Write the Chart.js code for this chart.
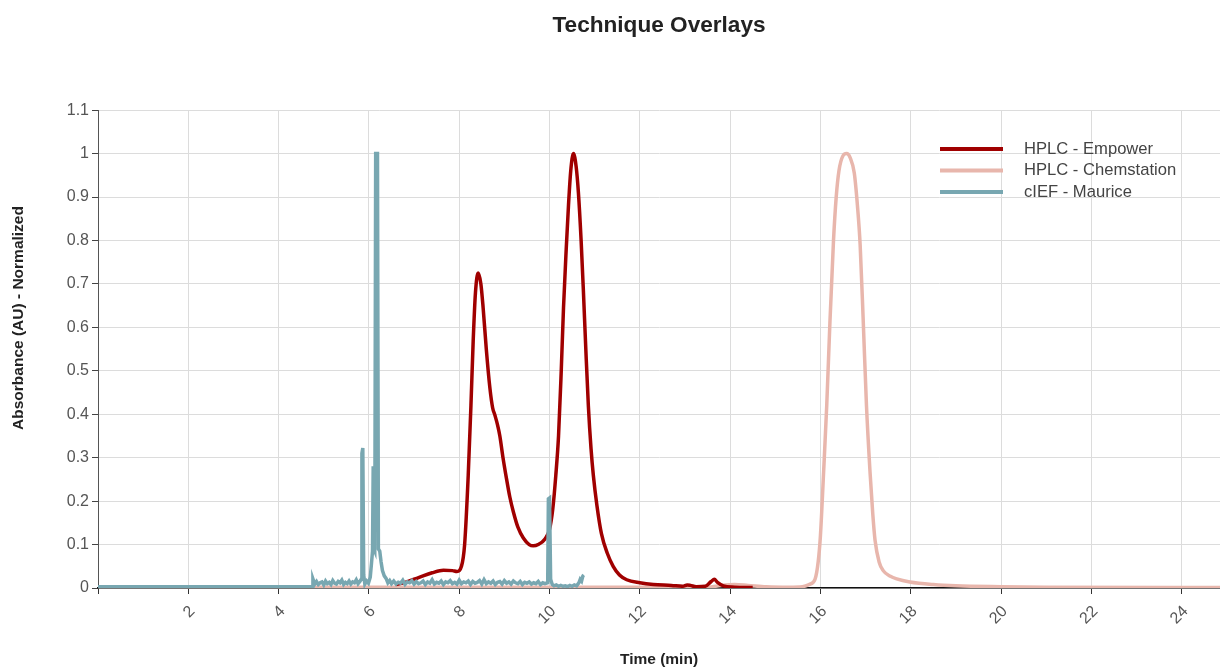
<!DOCTYPE html>
<html lang="en">
<head>
<meta charset="UTF-8"/>
<title>Technique Overlays</title>
<script src="https://cdn.jsdelivr.net/npm/chart.js"></script>
<style>
 body{margin:0;background:#fff}
 #wrap{width:1220px;height:671px}
</style>
</head>
<body>
<div id="wrap"><canvas id="chart" width="1220" height="671"></canvas></div>

<script>
// HPLC - Empower (time in min, normalized absorbance)
const empowerTime = [6.6, 6.8, 7.1, 7.4, 7.65, 7.85, 7.95, 8.05, 8.12, 8.2, 8.26, 8.31, 8.36, 8.42, 8.48, 8.53,
  8.6, 8.68, 8.74, 8.79, 8.85, 8.9, 8.97, 9.05, 9.12, 9.2, 9.3, 9.42, 9.55, 9.64, 9.75, 9.9, 10.0, 10.07, 10.14,
  10.2, 10.26, 10.31, 10.37, 10.42, 10.47, 10.53, 10.59, 10.64, 10.7, 10.75, 10.8, 10.86, 10.92, 10.97, 11.05,
  11.15, 11.28, 11.41, 11.55, 11.71, 12.0, 12.3, 12.7, 12.95, 13.05, 13.12, 13.25, 13.45, 13.58, 13.65, 13.72,
  13.85, 14.1, 14.5];
const empowerAbs = [0.008, 0.013, 0.024, 0.035, 0.041, 0.04, 0.038, 0.05, 0.1, 0.26, 0.42, 0.57, 0.68, 0.725, 0.7, 0.645,
  0.55, 0.46, 0.415, 0.398, 0.375, 0.35, 0.3, 0.25, 0.21, 0.175, 0.14, 0.115, 0.1, 0.097, 0.1, 0.113, 0.135, 0.18, 0.26,
  0.35, 0.5, 0.645, 0.78, 0.88, 0.96, 1.0, 0.97, 0.91, 0.8, 0.685, 0.56, 0.42, 0.32, 0.26, 0.19,
  0.125, 0.08, 0.05, 0.03, 0.019, 0.012, 0.008, 0.006, 0.004, 0.007, 0.006, 0.003, 0.004, 0.015, 0.02, 0.013,
  0.005, 0.002, 0.001];

// HPLC - Chemstation
const chemTime = [0, 13.5, 13.8, 14.1, 14.4, 14.8, 15.3, 15.6, 15.75, 15.88, 15.95, 16.0, 16.07, 16.14, 16.21, 16.29,
  16.35, 16.41, 16.5, 16.58, 16.66, 16.75, 16.82, 16.88, 16.95, 17.02, 17.1, 17.16, 17.21, 17.3, 17.39, 17.55,
  17.69, 17.98, 18.5, 19.0, 20.0, 21.0, 24.85];
const chemAbs = [0.002, 0.002, 0.006, 0.008, 0.006, 0.003, 0.002, 0.003, 0.008, 0.02, 0.06, 0.12, 0.265, 0.42, 0.61, 0.8,
  0.9, 0.96, 0.995, 1.0, 0.99, 0.955, 0.88, 0.79, 0.61, 0.42, 0.265, 0.17, 0.11, 0.06, 0.04, 0.027,
  0.021, 0.014, 0.008, 0.005, 0.003, 0.002, 0.001];

// cIEF - Maurice
const ciefTime = [0, 4.74, 4.76,
  4.80, 4.84, 4.88, 4.92, 4.96, 5.00, 5.04, 5.08, 5.12, 5.16, 5.20, 5.24, 5.28, 5.32, 5.36,
  5.40, 5.44, 5.48, 5.52, 5.56, 5.60, 5.64, 5.68, 5.72, 5.76, 5.80,
  5.83, 5.845, 5.865, 5.885, 5.91, 5.95, 5.99, 6.03, 6.06, 6.08, 6.095, 6.11, 6.13, 6.15, 6.19, 6.21,
  6.24, 6.27, 6.30, 6.34, 6.38, 6.42, 6.46, 6.50,
  6.55, 6.60, 6.65, 6.70, 6.75, 6.80, 6.85, 6.90, 6.95, 7.00,
  7.05, 7.10, 7.15, 7.20, 7.25, 7.30, 7.35, 7.40, 7.45, 7.50,
  7.55, 7.60, 7.65, 7.70, 7.75, 7.80, 7.85, 7.90, 7.95, 8.00,
  8.05, 8.10, 8.15, 8.20, 8.25, 8.30, 8.35, 8.40, 8.45, 8.50,
  8.55, 8.60, 8.65, 8.70, 8.75, 8.80, 8.85, 8.90, 8.95, 9.00,
  9.05, 9.10, 9.15, 9.20, 9.25, 9.30, 9.35, 9.40, 9.45, 9.50,
  9.55, 9.60, 9.65, 9.70, 9.75, 9.80, 9.85, 9.90,
  9.96, 9.975, 10.0, 10.025,
  10.06, 10.10, 10.15, 10.20, 10.25, 10.30, 10.35, 10.40, 10.45, 10.50, 10.55, 10.60, 10.65,
  10.68, 10.71, 10.74, 10.76];
const ciefAbs = [0.003, 0.003, 0.021,
  0.009, 0.015, 0.008, 0.012, 0.014, 0.007, 0.016, 0.010, 0.013, 0.008, 0.017, 0.011, 0.009, 0.015, 0.012,
  0.018, 0.008, 0.013, 0.010, 0.016, 0.009, 0.014, 0.012, 0.019, 0.010, 0.015,
  0.02, 0.31, 0.322, 0.03, 0.009, 0.016, 0.011, 0.025, 0.06, 0.085, 0.28, 0.09, 0.085, 1.0, 1.0, 0.09,
  0.085, 0.06, 0.04, 0.028, 0.022, 0.012, 0.017, 0.010,
  0.016, 0.009, 0.013, 0.011, 0.018, 0.008, 0.014, 0.012, 0.017, 0.009,
  0.015, 0.010, 0.012, 0.016, 0.008, 0.014, 0.011, 0.019, 0.009, 0.013,
  0.011, 0.016, 0.008, 0.014, 0.012, 0.017, 0.010, 0.013, 0.009, 0.018,
  0.010, 0.014, 0.012, 0.016, 0.008, 0.015, 0.011, 0.013, 0.017, 0.009,
  0.019, 0.010, 0.014, 0.011, 0.016, 0.008, 0.013, 0.015, 0.009, 0.017,
  0.011, 0.014, 0.009, 0.016, 0.012, 0.010, 0.015, 0.008, 0.013, 0.011,
  0.014, 0.009, 0.012, 0.010, 0.015, 0.008, 0.012, 0.010,
  0.012, 0.205, 0.207, 0.02,
  0.008, 0.005, 0.007, 0.004, 0.006, 0.004, 0.005, 0.003, 0.006, 0.004, 0.007, 0.005, 0.012,
  0.02, 0.016, 0.028, 0.03];

const seriesLabels = ['HPLC - Empower', 'HPLC - Chemstation', 'cIEF - Maurice'];
const seriesColors = ['#a00000', '#e8b6ac', '#78a7b1'];
const yTitle = 'Absorbance (AU) - Normalized';

const FONT = '"Liberation Sans", Arial, Helvetica, sans-serif';
Chart.defaults.font.family = FONT;

const pts = (xs, ys) => xs.map((x, i) => ({x: x, y: ys[i]}));

// legend sits inside the plot, top right, like the original
const insideLegend = {
  id: 'insideLegend',
  afterDraw(chart) {
    const ctx = chart.ctx, area = chart.chartArea;
    ctx.save();
    ctx.font = '16.6px ' + FONT;
    ctx.textBaseline = 'middle';
    ctx.fillStyle = '#444';
    chart.data.datasets.forEach((ds, i) => {
      const y = area.top + 39 + i * 21.5;
      ctx.strokeStyle = ds.borderColor;
      ctx.lineWidth = 4;
      ctx.beginPath();
      ctx.moveTo(area.right - 280, y);
      ctx.lineTo(area.right - 217, y);
      ctx.stroke();
      ctx.fillText(ds.label, area.right - 196, y);
    });
    // y title, centred a bit above the plot middle as in the source
    ctx.translate(19, 318);
    ctx.rotate(-Math.PI / 2);
    ctx.textAlign = 'center';
    ctx.font = 'bold 15.5px ' + FONT;
    ctx.fillStyle = '#222';
    ctx.fillText(yTitle, 0, 0);
    ctx.restore();
  }
};

new Chart(document.getElementById('chart'), {
  type: 'line',
  data: {
    datasets: [
      {label: seriesLabels[0], data: pts(empowerTime, empowerAbs), borderColor: seriesColors[0],
       borderWidth: 3.5, cubicInterpolationMode: 'monotone', order: 1},
      {label: seriesLabels[1], data: pts(chemTime, chemAbs), borderColor: seriesColors[1],
       borderWidth: 3.5, cubicInterpolationMode: 'monotone', order: 2},
      {label: seriesLabels[2], data: pts(ciefTime, ciefAbs), borderColor: seriesColors[2],
       borderWidth: 3.5, tension: 0, order: 0}
    ]
  },
  options: {
    responsive: false,
    animation: false,
    layout: {padding: 0},
    elements: {
      point: {radius: 0, hoverRadius: 0},
      line: {fill: false}
    },
    plugins: {
      legend: {display: false},
      tooltip: {enabled: false},
      title: {
        display: true,
        text: 'Technique Overlays',
        fullSize: false,
        color: '#222',
        font: {size: 22.6, weight: 'bold'},
        padding: {top: 12, bottom: 71}
      }
    },
    scales: {
      x: {
        type: 'linear',
        min: 0,
        max: 24.85,
        afterFit(s) { s.height = 83; },
        grid: {color: '#dcdcdc', tickColor: '#333', tickLength: 6},
        border: {color: '#111', width: 1.5},
        ticks: {
          stepSize: 2,
          includeBounds: false,
          autoSkip: false,
          minRotation: 45,
          maxRotation: 45,
          color: '#555',
          font: {size: 16},
          padding: 8,
          labelOffset: 4,
          callback: v => v === 0 ? '' : v
        },
        title: {display: true, text: 'Time (min)', color: '#222',
                font: {size: 15.5, weight: 'bold'}, padding: {top: 4, bottom: 2}}
      },
      y: {
        min: 0,
        max: 1.1,
        afterFit(s) { s.width = 98; },
        grid: {color: '#dcdcdc', tickColor: '#444', tickLength: 6},
        border: {color: '#555', width: 1},
        ticks: {stepSize: 0.1, color: '#555', font: {size: 16}, padding: 3,
                callback: v => String(Number(v.toFixed(1)))}
      }
    }
  },
  plugins: [insideLegend]
});
</script>
</body>
</html>
